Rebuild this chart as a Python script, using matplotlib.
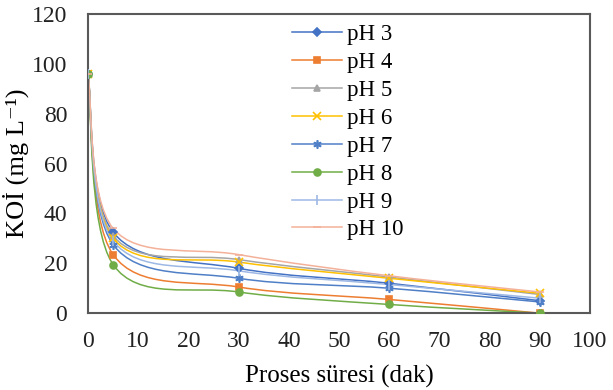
import matplotlib
matplotlib.use("Agg")
import matplotlib.pyplot as plt
from matplotlib.path import Path
from matplotlib.patches import PathPatch
from matplotlib.lines import Line2D

plt.rcParams['font.family'] = ['Liberation Serif', 'DejaVu Serif']

time_min = [0, 5, 30, 60, 90]
labels = ["pH 3", "pH 4", "pH 5", "pH 6", "pH 7", "pH 8", "pH 9", "pH 10"]
cod = {
    "pH 3": [96, 32.5, 18.0, 12.0, 5.0],
    "pH 4": [96, 23.5, 10.5, 5.5, 0.0],
    "pH 5": [96, 31.0, 21.5, 14.5, 7.5],
    "pH 6": [96, 30.0, 20.5, 14.0, 8.0],
    "pH 7": [96, 27.5, 14.0, 10.0, 4.5],
    "pH 8": [96, 19.5, 8.5, 3.5, 0.0],
    "pH 9": [96, 29.0, 17.0, 11.5, 6.0],
    "pH 10": [96, 34.0, 23.5, 15.0, 8.5],
}
colors = ["#4472C4", "#ED7D31", "#A5A5A5", "#FFC000", "#4F7FC6", "#70AD47", "#9DB8E4", "#F4B19A"]
markers = ["D", "s", "^", "x", (6, 2, 0), "o", "|", "_"]
msizes = [4, 5, 5, 6, 6, 5, 7, 6]

fig = plt.figure(figsize=(6.13, 3.90), dpi=100)
ax = fig.add_axes([0.1436, 0.197, 0.8189, 0.767])


def smooth_path(xs, ys):
    pts = list(zip(xs, ys))
    n = len(pts)
    verts = [pts[0]]
    codes = [Path.MOVETO]
    for i in range(n - 1):
        p0 = pts[i - 1] if i > 0 else pts[i]
        p1 = pts[i]
        p2 = pts[i + 1]
        p3 = pts[i + 2] if i + 2 < n else pts[i + 1]
        c1 = (p1[0] + (p2[0] - p0[0]) / 6, p1[1] + (p2[1] - p0[1]) / 6)
        c2 = (p2[0] - (p3[0] - p1[0]) / 6, p2[1] - (p3[1] - p1[1]) / 6)
        verts += [c1, c2, p2]
        codes += [Path.CURVE4] * 3
    return Path(verts, codes)


handles = []
for lab, col, mk, ms in zip(labels, colors, markers, msizes):
    ys = cod[lab]
    ax.add_patch(PathPatch(smooth_path(time_min, ys), facecolor="none",
                           edgecolor=col, lw=1.1, zorder=2))
    ax.plot(time_min, ys, linestyle="none", marker=mk, color=col,
            markersize=ms, markeredgewidth=1.2, zorder=3)
    handles.append(Line2D([], [], color=col, lw=1.1, marker=mk,
                          markersize=ms, markeredgewidth=1.2))

ax.set_xlim(0, 100)
ax.set_ylim(0, 120)
ax.set_xticks(range(0, 101, 10))
ax.set_yticks(range(0, 121, 20))
ax.tick_params(length=0, labelsize=17, colors="#222222")
ax.tick_params(axis="y", pad=15)
ax.tick_params(axis="x", pad=13)
for s in ax.spines.values():
    s.set_color("#595959")
    s.set_linewidth(1.5)

ax.set_xlabel("Proses süresi (dak)", fontsize=18, labelpad=9)
ax.set_ylabel("KOİ (mg L⁻¹)", fontsize=19, labelpad=2)

fig.legend(handles, labels, loc="upper left", bbox_to_anchor=(292 / 613, 1 - 24 / 390),
           frameon=False, fontsize=16.5, handlelength=2.2, handletextpad=0.2,
           labelspacing=0.3, borderpad=0, borderaxespad=0)

fig.savefig("out.png", dpi=100)
